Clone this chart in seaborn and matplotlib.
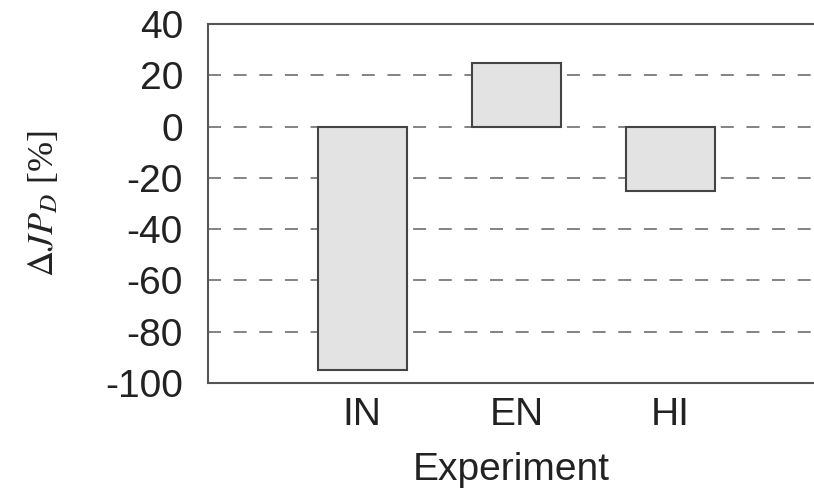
import matplotlib
matplotlib.use("Agg")
import matplotlib.pyplot as plt
import seaborn as sns
import pandas as pd

categories = ["IN", "EN", "HI"]
values = [-95, 25, -25]
yticks = [-100, -80, -60, -40, -20, 0, 20, 40]

sns.set_theme(style="white")
plt.rcParams['font.family'] = ['Liberation Sans', 'DejaVu Sans']
plt.rcParams['mathtext.fontset'] = 'stix'

df = pd.DataFrame({"Experiment": categories, "val": values})

fig = plt.figure(figsize=(8.14, 4.91), dpi=100)
ax = fig.add_axes([0.2555, 0.22, 0.7445, 0.731])

for y in [20, 0, -20, -40, -60, -80]:
    ax.axhline(y, color="#7a7a7a", linestyle=(0, (7.2, 7.0)), linewidth=1.3, zorder=0)

sns.barplot(data=df, x="Experiment", y="val", color="#e3e3e3", saturation=1,
            edgecolor="#444444", linewidth=1.5, width=0.575, ax=ax, zorder=2)

ax.set_xlim(-1.0, 2.93)
ax.set_ylim(-100, 40)
ax.set_yticks(yticks)
ax.set_yticklabels([str(t) for t in yticks], fontsize=28, color="#222222")
ax.tick_params(axis='x', labelsize=28, labelcolor="#222222", length=0, pad=10)
ax.tick_params(axis='y', length=0, pad=18)
ax.set_xlabel("Experiment", fontsize=28, labelpad=14, color="#222222")
ax.set_ylabel(r"$\Delta JP_D$ [%]", fontsize=26, labelpad=32, color="#222222",
              family=["Liberation Serif", "DejaVu Serif"])

for s in ["left", "top", "bottom"]:
    ax.spines[s].set_color("#555555")
    ax.spines[s].set_linewidth(1.5)
ax.spines["right"].set_visible(False)

fig.savefig("out.png", dpi=100)
